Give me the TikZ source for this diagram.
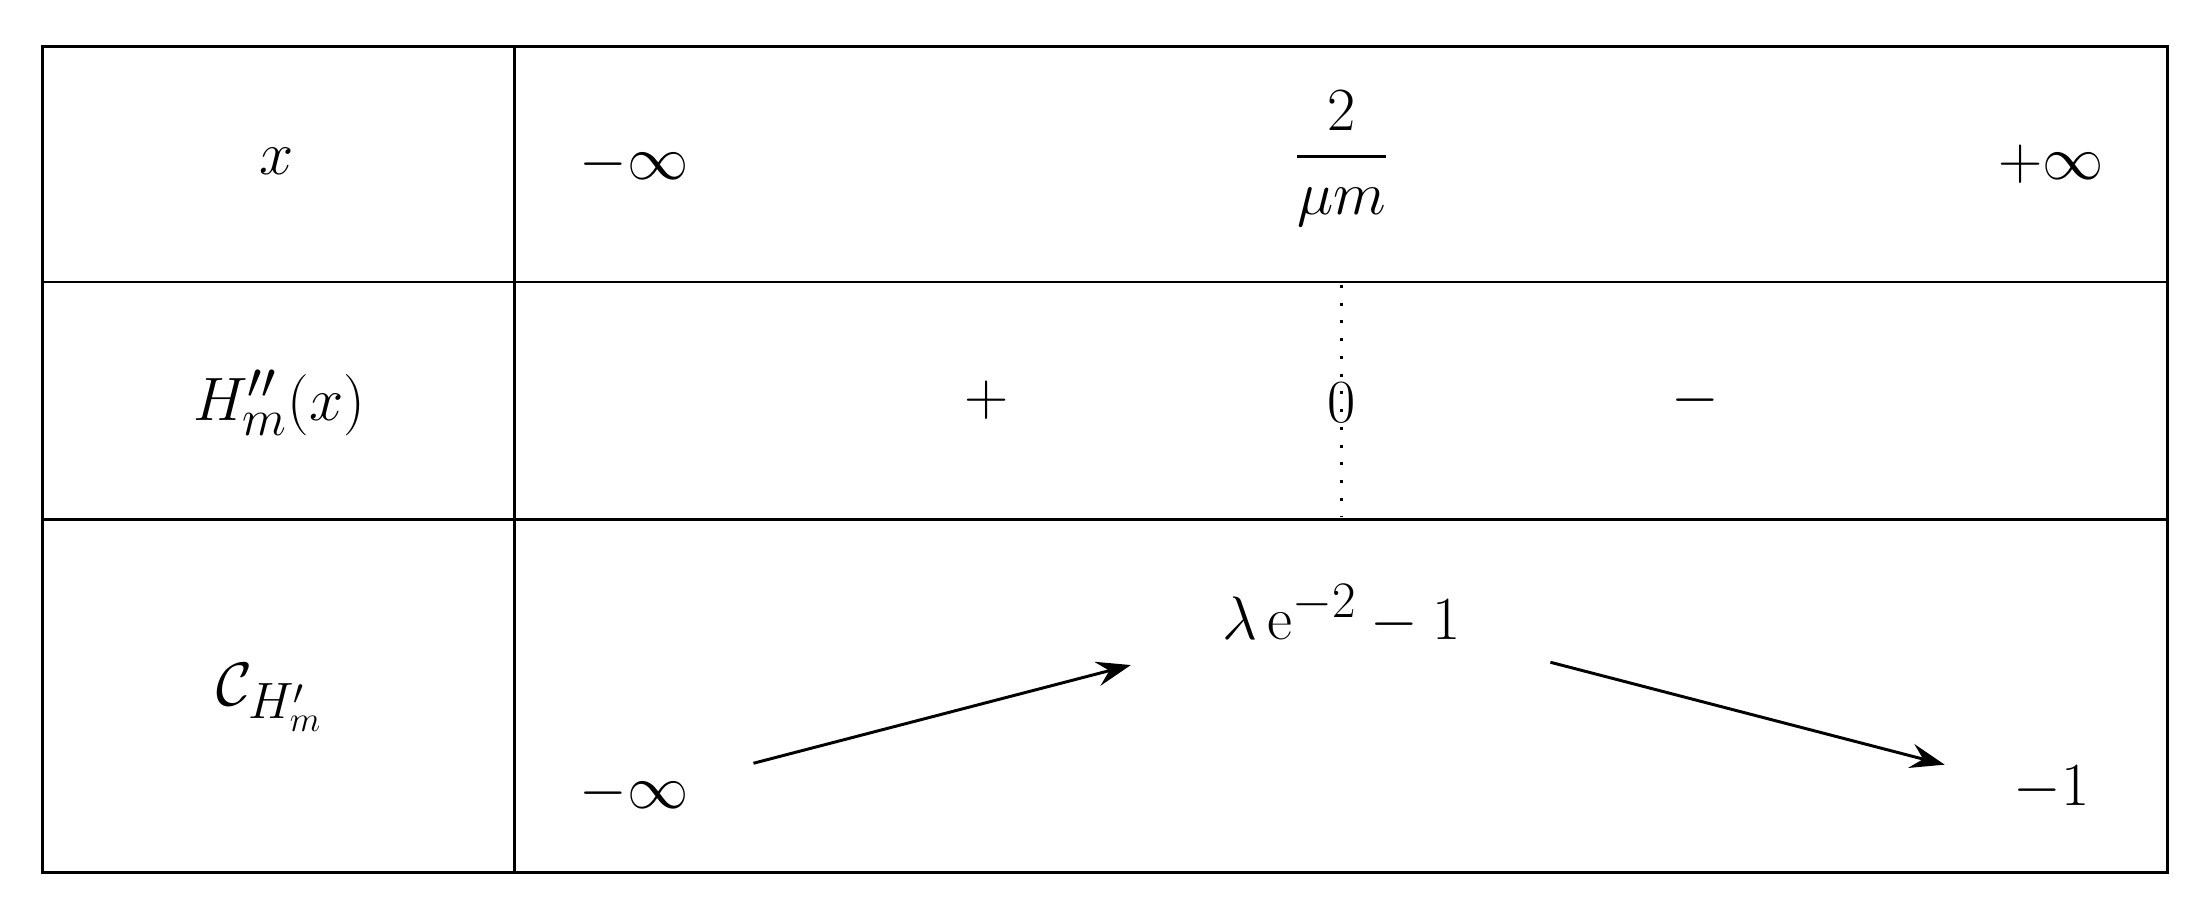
\documentclass[tikz,border=0pt]{standalone}
\usepackage{amsmath}
\usetikzlibrary{arrows.meta}
\begin{document}
\begin{tikzpicture}[x=0.02cm,y=-0.02cm,font=\fontsize{29}{34}\selectfont,
  cell/.style={inner sep=0pt},
  varrow/.style={-{Stealth[length=14pt,width=10pt,inset=5pt]},line width=1.2pt}]
\useasboundingbox (0,0) rectangle (1568,655);
\draw[line width=1.2pt] (30,33) rectangle (1545,622);
\draw[line width=1.2pt] (367,33) -- (367,622);
\draw[line width=1.2pt] (30,201) -- (1545,201);
\draw[line width=1.2pt] (30,370) -- (1545,370);
\node[cell] (x) at (197,115) {$x$};
\node[cell] (mi) at (452,117) {$-\infty$};
\node[cell] (fr) at (956,113) {$\dfrac{2}{\mu m}$};
\node[cell] (pi) at (1462,117) {$+\infty$};
\node[cell] (h) at (199,287) {$H''_m(x)$};
\node[cell] (p) at (703,285) {$+$};
\node[cell] (z) at (956,287) {$0$};
\node[cell] (m) at (1208,285) {$-$};
\coordinate (d1) at (956,203);
\coordinate (d2) at (956,368);
\draw[line width=1.2pt,dash pattern=on 1.2pt off 6pt] (d1) -- (d2);
\node[cell] (c) at (192,497) {$\mathcal{C}_{H'_m}$};
\node[cell] (top) at (956,438) {$\lambda\,\mathrm{e}^{-2}-1$};
\node[cell] (bl) at (452,565) {$-\infty$};
\node[cell] (br) at (1462,562) {$-1$};
\coordinate (a1) at (537,544);
\coordinate (a2) at (806,474);
\coordinate (b1) at (1105,472);
\coordinate (b2) at (1386,545);
\draw[varrow] (a1) -- (a2);
\draw[varrow] (b1) -- (b2);
\end{tikzpicture}
\end{document}
